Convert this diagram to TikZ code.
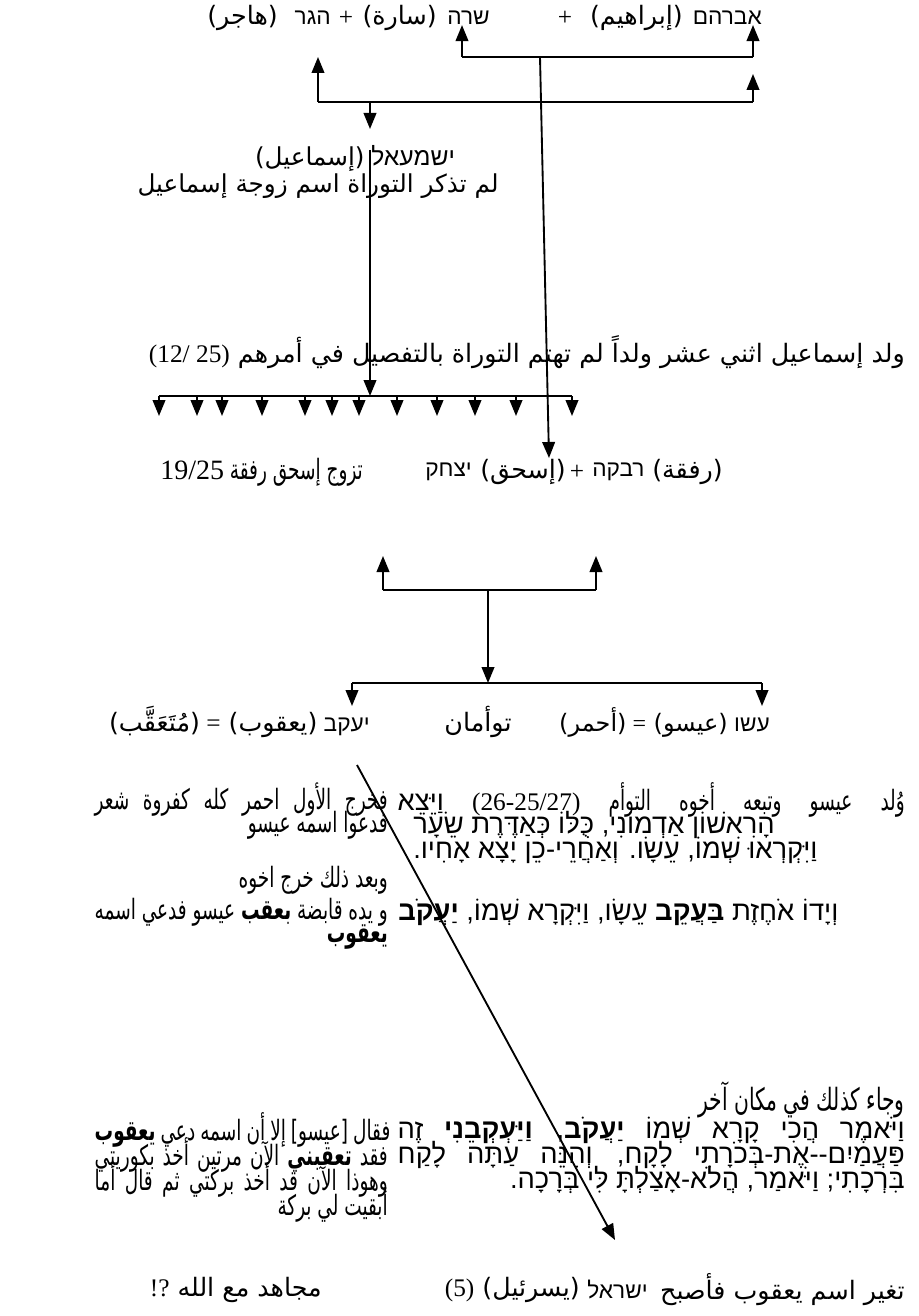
\documentclass[tikz,border=0pt]{standalone}
\usepackage{fontspec}
\usetikzlibrary{positioning,arrows.meta}
\TeXXeTstate=1
\newfontfamily\heb[Script=Hebrew]{Liberation Sans}
\newfontfamily\arb[Script=Arabic]{DejaVu Sans}
\newfontfamily\arbn[Script=Arabic,FakeStretch=0.66]{DejaVu Sans}
\newfontfamily\lat{Liberation Serif}
\newcommand\rl[1]{\beginR #1\endR}
\newcommand\lr[1]{\beginL{\lat #1}\endL}
% justified line of a given width
\newcommand\jline[2]{\hbox to #1{\spaceskip=.3em plus 1fil minus .12em\relax #2}}
\newcommand\fs[1]{\fontsize{#1}{#1}\selectfont}

\begin{document}
\begin{tikzpicture}[x=0.75pt,y=-0.75pt,
    every node/.style={inner sep=0pt,font=\fs{19}},
    verse/.style={font=\fs{20.5}\heb},
    note/.style={font=\fs{21}\arbn},
    arr/.style={-{Triangle[length=12pt,width=9.5pt]},line width=1.4pt},
    ln/.style={line width=1.4pt}]
  \useasboundingbox (0,0) rectangle (919,1316);

  % Abraham, Sarah, Hagar
  \node[anchor=east] (abraham) at (762,18) {\fs{17}\heb אברהם};
  \node[anchor=east] (abrahamar) at (683,18) {\arb (إبراهيم)};
  \node (plusa) at (565,18) {\lat +};
  \node[anchor=east] (sarah) at (490,18) {\fs{17}\heb שרה};
  \node[anchor=east] (sarahar) at (437,18) {\arb (سارة)};
  \node (plusb) at (346,18) {\lat +};
  \node[anchor=east] (hagar) at (331,18) {\fs{17}\heb הגר};
  \node[anchor=east] (hagarar) at (278,18) {\arb (هاجر)};

  \coordinate (abtop) at (753,57);
  \coordinate (satop) at (462,57);
  \coordinate (sadown) at (540,57);
  \coordinate (abbot) at (753,102);
  \coordinate (hgbot) at (318,102);
  \coordinate (ishup) at (370,102);
  \draw[ln] (satop) -- (abtop);
  \draw[arr] (abtop) -- (abtop |- abraham.south);
  \draw[arr] (satop) -- (satop |- sarah.south);
  \draw[ln] (hgbot) -- (abbot);
  \draw[arr] (abbot) -- ++(0,-28);
  \draw[arr] (hgbot) -- ++(0,-45);
  \draw[arr] (ishup) -- ++(0,27);

  % Ishmael
  \node (ishmael) at (355,158) {\fs{18.5}\rl{\heb ישמעאל \arb (إسماعيل)}};
  \node (wife) at (318,186) {\fs{18.5}\arb\rl{لم تذكر التوراة اسم زوجة إسماعيل}};
  \node[anchor=east] (twelve) at (905,352)
    {\rl{\arb ولد إسماعيل اثني عشر ولداً لم تهتم التوراة بالتفصيل في أمرهم \lr{(12/ 25)}}};
  \coordinate (ishdown) at (370,150);
  \coordinate (sonsbar) at (370,396);
  \draw[arr] (ishdown) -- (sonsbar);
  \draw[ln] (159,396) -- (572,396);
  \foreach \sx in {159,197,222,262,305,332,359,397,437,475,516,572}
    \draw[arr] (\sx,396) -- ++(0,20);

  % Isaac and Rebecca
  \node[note,anchor=west] (married) at (160,472) {\rl{تزوج إسحق رفقة \lr{19/25}}};
  \node[anchor=west] (isaac) at (425,472) {\fs{17}\heb יצחק};
  \node[anchor=west] (isaacar) at (480,472) {\arb (إسحق)};
  \node (plusc) at (577,472) {\lat +};
  \node[anchor=west] (rebecca) at (592,472) {\fs{17}\heb רבקה};
  \node[anchor=west] (rebeccaar) at (652,472) {\arb (رفقة)};
  \draw[arr] (sadown) -- (549,458);

  \coordinate (parl) at (383,590);
  \coordinate (parr) at (596,590);
  \coordinate (parm) at (488,590);
  \draw[ln] (parl) -- (parr);
  \draw[arr] (parl) -- ++(0,-34);
  \draw[arr] (parr) -- ++(0,-34);
  \coordinate (twinbar) at (488,683);
  \draw[arr] (parm) -- (twinbar);
  \draw[ln] (352,683) -- (762,683);
  \draw[arr] (352,683) -- ++(0,23);
  \draw[arr] (762,683) -- ++(0,23);

  % Jacob and Esau
  \node[anchor=east] (jacob) at (370,722)
    {\rl{\fs{17}\heb יעקב \fs{19}\arb (يعقوب) \lat = \arb (مُتَعَقَّب)}};
  \node (twins) at (478,722) {\arb توأمان};
  \node[anchor=east] (esau) at (770,722)
    {\rl{\fs{17}\heb עשו \fs{18}\arb (عيسو) \lat = \arb (أحمر)}};

  % left column
  \node[note,anchor=east] (la) at (388,800) {\jline{219.75pt}{\rl{فخرج الأول احمر كله كفروة شعر}}};
  \node[note,anchor=east] (lb) at (388,825) {\rl{فدعوا اسمه عيسو}};
  \node[note,anchor=east] (lc) at (388,880) {\rl{وبعد ذلك خرج اخوه}};
  \node[note,anchor=east] (ld) at (388,912) {\jline{219.75pt}{\rl{و يده قابضة {\bfseries بعقب} عيسو فدعي اسمه}}};
  \node[note,anchor=east] (le) at (388,937) {\bfseries\rl{يعقوب}};
  \node[note,anchor=east] (lf) at (388,1130) {\jline{219.75pt}{\rl{فقال [عيسو] إلا أن اسمه دعي {\bfseries يعقوب}}}};
  \node[note,anchor=east] (lg) at (388,1155) {\jline{219.75pt}{\rl{فقد {\bfseries تعقبني} الآن مرتين أخذ بكوريتي}}};
  \node[note,anchor=east] (lh) at (388,1180) {\jline{219.75pt}{\rl{وهوذا الآن قد أخذ بركتي ثم قال أما}}};
  \node[note,anchor=east] (li) at (388,1205) {\rl{أبقيت لي بركة}};

  % right column
  \node[note,anchor=east] (ra) at (905,800)
    {\jline{380.25pt}{\rl{وُلد عيسو وتبعه أخوه التوأم \lr{\fs{19}(26-25/27)} {\fs{20.5}\heb וַיֵּצֵא}}}};
  \node[verse,anchor=west] (rb) at (413,825) {\rl{הָרִאשׁוֹן אַדְמוֹנִי, כֻּלּוֹ כְּאַדֶּרֶת שֵׂעָר}};
  \node[verse,anchor=west] (rc) at (413,850) {\rl{וַיִּקְרְאוּ שְׁמוֹ, עֵשָׂו.  וְאַחֲרֵי-כֵן יָצָא אָחִיו.}};
  \node[verse,anchor=west] (rd) at (398,912)
    {\rl{וְיָדוֹ אֹחֶזֶת {\bfseries בַּעֲקֵב} עֵשָׂו, וַיִּקְרָא שְׁמוֹ, {\bfseries יַעֲקֹב}}};
  \node[note,anchor=east] (re) at (905,1100) {\fs{23}\rl{وجاء كذلك في مكان آخر}};
  \node[verse,anchor=east] (rf) at (905,1130)
    {\jline{380.25pt}{\rl{וַיֹּאמֶר הֲכִי קָרָא שְׁמוֹ {\bfseries יַעֲקֹב}, {\bfseries וַיַּעְקְבֵנִי} זֶה}}};
  \node[verse,anchor=east] (rg) at (905,1155)
    {\jline{380.25pt}{\rl{פַּעֲמַיִם-\kern0pt-אֶת-בְּכֹרָתִי לָקָח, וְהִנֵּה עַתָּה לָקַח}}};
  \node[verse,anchor=east] (rh) at (905,1180) {\rl{בִּרְכָתִי; וַיֹּאמַר, הֲלֹא-אָצַלְתָּ לִּי בְּרָכָה.}};

  % Israel
  \node[anchor=east] (renamed) at (905,1290) {\rl{\arb تغير اسم يعقوب فأصبح}};
  \node[anchor=east] (israel) at (648,1290) {\fs{17}\heb ישראל};
  \node[anchor=east] (israelar) at (580,1290) {\rl{\arb (يسرئيل) \lr{(5)}}};
  \node[anchor=east] (fighter) at (322,1290) {\rl{\arb مجاهد مع الله \lr{!?}}};
  \coordinate (jacobfoot) at (357,765);
  \draw[arr] (jacobfoot) -- (615,1240);
\end{tikzpicture}
\end{document}
